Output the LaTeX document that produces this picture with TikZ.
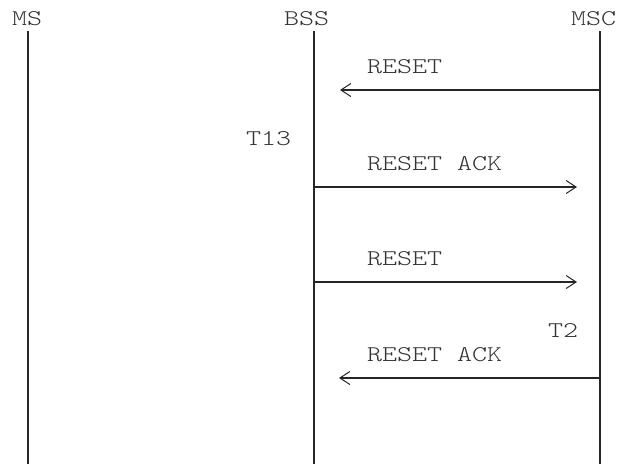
\documentclass[tikz,border=0pt]{standalone}
\usepackage{fontspec}
\newfontfamily\courfont[FakeStretch=1.27]{Latin Modern Mono Light}
\usetikzlibrary{arrows.meta}
\tikzset{
  lbl/.style={font=\courfont\fontsize{22.5}{27}\selectfont, text=black!80, inner sep=0pt, anchor=base west},
  life/.style={line width=1.6pt, black!85},
  msg/.style={line width=1.2pt, black!85, -{Straight Barb[length=10pt,width=13pt,line width=1pt]}},
}
\begin{document}
\begin{tikzpicture}[x=1pt,y=-1pt]
        \useasboundingbox (0,0) rectangle (617,464);
        % headers
        \node[lbl] (ms) at (12,25) {MS};
        \node[lbl] (bss) at (284,25) {BSS};
        \node[lbl] (msc) at (571,25) {MSC};
        % lifelines
        \coordinate (ms0) at (28,31);
        \coordinate (ms1) at (28,464);
        \coordinate (bss0) at (314,31);
        \coordinate (bss1) at (314,464);
        \coordinate (msc0) at (600,31);
        \coordinate (msc1) at (600,464);
        \draw[life] (ms0) -- (ms1);
        \draw[life] (bss0) -- (bss1);
        \draw[life] (msc0) -- (msc1);
        % message labels and timers
        \node[lbl] (rst1) at (367,73) {RESET};
        \node[lbl] (t13) at (246,145) {T13};
        \node[lbl] (ack1) at (367,170) {RESET ACK};
        \node[lbl] (rst2) at (367,265) {RESET};
        \node[lbl] (t2) at (548,337) {T2};
        \node[lbl] (ack2) at (367,361) {RESET ACK};
        % message ends
        \coordinate (m1a) at (600,90);
        \coordinate (m1b) at (340,90);
        \coordinate (m2a) at (314,187);
        \coordinate (m2b) at (577,187);
        \coordinate (m3a) at (314,282);
        \coordinate (m3b) at (577,282);
        \coordinate (m4a) at (600,378);
        \coordinate (m4b) at (339,378);
        % Now the arrows between the lifelines
        \draw[msg] (m1a) -- (m1b);
        \draw[msg] (m2a) -- (m2b);
        \draw[msg] (m3a) -- (m3b);
        \draw[msg] (m4a) -- (m4b);
\end{tikzpicture}
\end{document}
